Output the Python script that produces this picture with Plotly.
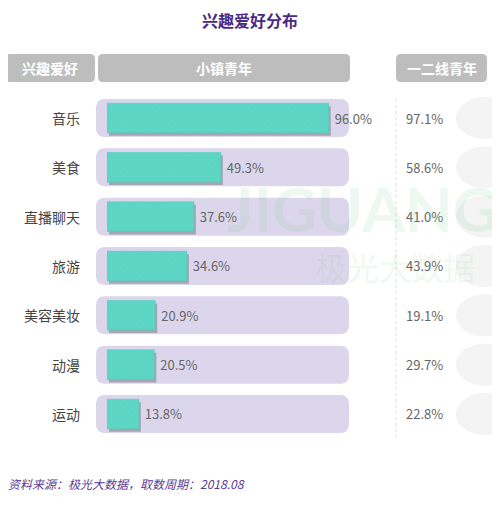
import plotly.graph_objects as go

hobbies = ["音乐", "美食", "直播聊天", "旅游", "美容美妆", "动漫", "运动"]
town = [96.0, 49.3, 37.6, 34.6, 20.9, 20.5, 13.8]
city = [97.1, 58.6, 41.0, 43.9, 19.1, 29.7, 22.8]

# page body has an 8px margin, so everything is placed 8px up/left
OFF = 8
W, H = 500 - OFF, 505 - OFF
x0px, x100px = 107 - OFF, 338 - OFF
row0, step = 118 - OFF, 49.33
n = len(hobbies)
idx = list(range(n))

def px(x):
    return (x - OFF) / W

def py(y):
    return 1 - (y - OFF) / H

def rrect(a, b, t, btm, r, color):
    # rounded rectangle in page pixels -> paper path
    pts = (f"M {px(a + r)},{py(t)} L {px(b - r)},{py(t)} Q {px(b)},{py(t)} {px(b)},{py(t + r)} "
           f"L {px(b)},{py(btm - r)} Q {px(b)},{py(btm)} {px(b - r)},{py(btm)} "
           f"L {px(a + r)},{py(btm)} Q {px(a)},{py(btm)} {px(a)},{py(btm - r)} "
           f"L {px(a)},{py(t + r)} Q {px(a)},{py(t)} {px(a + r)},{py(t)} Z")
    return dict(type="path", xref="paper", yref="paper", path=pts, fillcolor=color,
                line_width=0, layer="below")

def px_x(p):
    return (p - OFF - x0px) / (x100px - x0px) * 100

fig = go.Figure()
fig.add_trace(go.Bar(y=[i + 0.06 for i in idx], x=town, base=px_x(109), orientation="h",
                     width=0.6, marker=dict(color="rgba(90,90,90,0.4)", line_width=0),
                     hoverinfo="skip"))
fig.add_trace(go.Bar(y=idx, x=town, orientation="h", width=0.6,
                     marker=dict(color="#5dd6c6", line=dict(color="#4cc8b8", width=0.5),
                                 pattern=dict(shape="\\", fgcolor="#52c9b9", size=4, solidity=0.1)),
                     text=[f" {v:.1f}%" for v in town], textposition="outside",
                     textfont=dict(size=13, color="#666"), cliponaxis=False))

fig.update_layout(
    width=W, height=H, margin=dict(l=0, r=0, t=0, b=0),
    paper_bgcolor="white", plot_bgcolor="rgba(0,0,0,0)",
    barmode="overlay", showlegend=False,
    font=dict(family="Noto Sans CJK SC", color="#555"),
    xaxis=dict(domain=[x0px / W, x100px / W], range=[0, 100], visible=False),
    yaxis=dict(range=[(H - row0) / step, -row0 / step], visible=False),
)

shapes = []
for i in idx:
    yc = 118 + step * i
    shapes.append(rrect(96, 349, yc - 19, yc + 19, 9, "#dcd6ec"))
    shapes.append(dict(type="circle", xref="paper", yref="paper", x0=px(456), x1=px(512),
                       y0=py(yc + 21), y1=py(yc - 21), fillcolor="#f4f4f4", line_width=0,
                       layer="below"))

def header(a, b, label):
    shapes.append(rrect(a, b, 54, 82, 5, "#bdbdbd"))
    fig.add_annotation(xref="paper", yref="paper", x=px((a + b) / 2), y=py(68),
                       xanchor="center", yanchor="middle", text=f"<b>{label}</b>",
                       showarrow=False, font=dict(size=14, color="white"))
header(5, 95, "兴趣爱好")
header(98, 350, "小镇青年")
header(396, 487, "一二线青年")
shapes.append(dict(type="line", xref="paper", yref="paper", x0=px(396), x1=px(396),
                   y0=py(438), y1=py(96), line=dict(color="#ddd", width=1, dash="dot")))
fig.update_layout(shapes=shapes)

for i, (h, c) in enumerate(zip(hobbies, city)):
    fig.add_annotation(xref="paper", yref="y", x=px(82), y=i, text=h, showarrow=False,
                       xanchor="right", yanchor="middle", font=dict(size=14, color="#444"))
    fig.add_annotation(xref="paper", yref="y", x=px(404), y=i, text=f"{c:.1f}%",
                       showarrow=False, xanchor="left", yanchor="middle",
                       font=dict(size=13, color="#666"))

# watermark
fig.add_annotation(xref="paper", yref="paper", x=px(362), y=py(208), xanchor="center",
                   yanchor="middle", text="<b>JIGUANG</b>", showarrow=False,
                   font=dict(size=62, color="rgba(130,205,150,0.14)", family="Lato"))
fig.add_annotation(xref="paper", yref="paper", x=px(395), y=py(266), xanchor="center",
                   yanchor="middle", text="极光大数据", showarrow=False,
                   font=dict(size=32, color="rgba(130,205,150,0.14)"))

fig.add_annotation(xref="paper", yref="paper", x=px(250), y=py(20), xanchor="center",
                   yanchor="middle", text="<b>兴趣爱好分布</b>",
                   showarrow=False, font=dict(size=16, color="#4b2a86"))
fig.add_annotation(xref="paper", yref="paper", x=px(6), y=py(483), xanchor="left",
                   yanchor="middle", text="<i>资料来源：极光大数据，取数周期：2018.08</i>",
                   showarrow=False, font=dict(size=12, color="#5a3c96"))

fig.write_html("out.html")
